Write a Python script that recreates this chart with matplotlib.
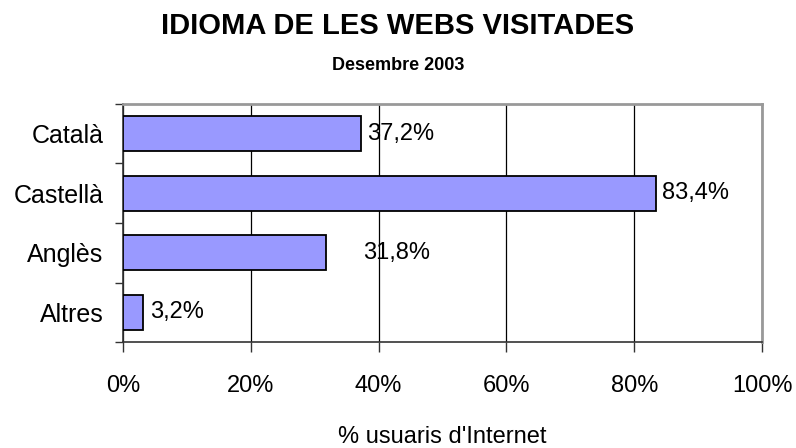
import matplotlib
matplotlib.use("Agg")
import matplotlib.pyplot as plt
import numpy as np

categories = ["Català", "Castellà", "Anglès", "Altres"]
values = [37.2, 83.4, 31.8, 3.2]
value_labels = ["37,2%", "83,4%", "31,8%", "3,2%"]
xticks = [0, 20, 40, 60, 80, 100]
xtick_labels = ["0%", "20%", "40%", "60%", "80%", "100%"]

plt.rcParams['font.family'] = ['Liberation Sans', 'DejaVu Sans']

fig = plt.figure(figsize=(7.96, 4.48), dpi=100)
W, H = 796, 448
ax = fig.add_axes([123 / W, 1 - 342 / H, (762 - 123) / W, (342 - 104) / H])

y = np.arange(len(categories))[::-1]
ax.barh(y, values, height=0.58, color="#9999FF", edgecolor="black", linewidth=1.3, zorder=3)

ax.set_xlim(0, 100)
ax.set_ylim(-0.5, len(categories) - 0.5)

FS = 17
ax.set_xticks(xticks)
ax.set_xticklabels(xtick_labels, fontsize=FS)
ax.set_yticks(y)
ax.set_yticklabels(categories, fontsize=18)
ax.tick_params(axis='y', which='major', length=0, pad=14)
ax.set_yticks(np.arange(-0.5, len(categories), 1.0), minor=True)
ax.tick_params(axis='y', which='minor', length=6, width=1, color='#333333', direction='out')
ax.tick_params(axis='x', which='major', length=7, width=1, color='#333333', direction='out', pad=17)

ax.grid(axis='x', color='black', linewidth=0.9, zorder=0)
for s in ['top', 'right']:
    ax.spines[s].set_color('#999999')
    ax.spines[s].set_linewidth(2)
for s in ['left', 'bottom']:
    ax.spines[s].set_color('#333333')
    ax.spines[s].set_linewidth(1.2)

# label positions (Anglès label sits beside Català's)
for yi, v, lab, cat in zip(y, values, value_labels, categories):
    lx = v + 1.0
    if cat == "Anglès":
        lx = values[0] + 0.4
    ax.text(lx, yi, lab, va='center', ha='left', fontsize=FS, zorder=4)

ax_pos = ax.get_position()
fig.text((ax_pos.x0 + ax_pos.x1) / 2, 1 - 437 / H, "% usuaris d'Internet",
         ha='center', va='center', fontsize=FS)

fig.text(0.5, 1 - 26 / H, "IDIOMA DE LES WEBS VISITADES", ha='center', va='center',
         fontsize=21, fontweight='bold')
fig.text(0.5, 1 - 65 / H, "Desembre 2003", ha='center', va='center',
         fontsize=13, fontweight='bold')

fig.savefig("out.png", dpi=100)
